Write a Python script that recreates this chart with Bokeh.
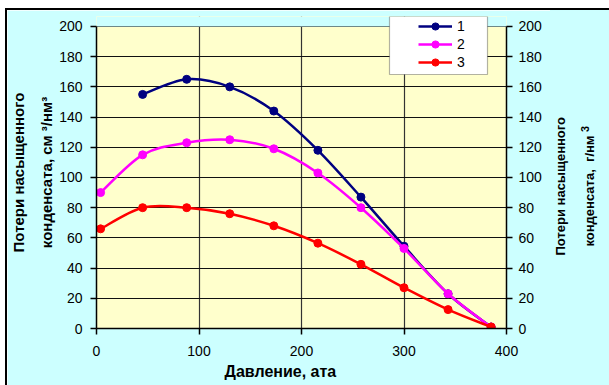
from bokeh.plotting import figure
from bokeh.layouts import row
from bokeh.models import (ColumnDataSource, LinearAxis, Range1d, Legend, LegendItem,
                          FixedTicker, BoxAnnotation, Div, Title)
from bokeh.embed import file_html
from bokeh.resources import INLINE

# Pressure, ata
pressure = [4, 45, 88, 130, 173, 216, 258, 300, 343, 385]
# Losses of saturated condensate for the three cases
pressure_1 = [45, 88, 130, 173, 216, 258, 300, 343, 385]
loss_1 = [155, 165, 160, 144, 118, 87, 54.5, 23, 1]
loss_2 = [90, 115, 123, 125, 119, 103, 80, 53, 23, 1]
loss_3 = [66, 80, 80, 76, 68, 56.5, 42.5, 27, 12.5, 1]

series = [
    ("1", pressure_1, loss_1, "#000080"),
    ("2", pressure, loss_2, "#FF00FF"),
    ("3", pressure, loss_3, "#FF0000"),
]

x_ticks = [0, 100, 200, 300, 400]
y_ticks = list(range(0, 201, 20))
Y_MAX = 200
# a little headroom above the plot area so the legend can sit over its top edge
Y_TOP = 206.6

LEFT_TITLE = "Потери насыщенного\nконденсата, см ³/нм³"
RIGHT_TITLE_HTML = "Потери насыщенного<br>конденсата,&nbsp; г/нм <sup>3</sup>"
X_TITLE = "Давление, ата"

FONT = "Liberation Sans"
PLOT_BG = "#FFFFCC"
CHART_BG = "#CCFFFF"


def smooth_segments(xs, ys):
    """Cubic Bezier control points for a smoothed line through the points."""
    n = len(xs)
    seg = {k: [] for k in ("x0", "y0", "x1", "y1", "cx0", "cy0", "cx1", "cy1")}
    for i in range(n - 1):
        xp, yp = (xs[i - 1], ys[i - 1]) if i > 0 else (xs[i], ys[i])
        xn, yn = (xs[i + 2], ys[i + 2]) if i + 2 < n else (xs[i + 1], ys[i + 1])
        seg["x0"].append(xs[i])
        seg["y0"].append(ys[i])
        seg["x1"].append(xs[i + 1])
        seg["y1"].append(ys[i + 1])
        seg["cx0"].append(xs[i] + (xs[i + 1] - xp) / 6)
        seg["cy0"].append(ys[i] + (ys[i + 1] - yp) / 6)
        seg["cx1"].append(xs[i + 1] - (xn - xs[i]) / 6)
        seg["cy1"].append(ys[i + 1] - (yn - ys[i]) / 6)
    return seg


p = figure(
    width=543, height=375,
    x_range=Range1d(0, 400), y_range=Range1d(0, Y_TOP),
    output_backend="svg", toolbar_location=None,
    min_border_left=88, min_border_right=44,
    min_border_top=6, min_border_bottom=57,
    background_fill_color=PLOT_BG, border_fill_color=CHART_BG,
    outline_line_color=None, margin=0,
)

# grid
p.xgrid.ticker = FixedTicker(ticks=x_ticks)
p.ygrid.ticker = FixedTicker(ticks=y_ticks)
p.xgrid.grid_line_color = "#333333"
p.ygrid.grid_line_color = "#111111"
p.xgrid.grid_line_width = 1.2
p.ygrid.grid_line_width = 1

# chart background above the plot area
p.add_layout(BoxAnnotation(bottom=Y_MAX, fill_color=CHART_BG, fill_alpha=1,
                           line_color=None, level="underlay"))

right_axis = LinearAxis()
p.add_layout(right_axis, "right")

for ax in (p.xaxis[0], p.yaxis[0], right_axis):
    ax.major_label_text_font = FONT
    ax.major_label_text_font_size = "14px"
    ax.major_label_text_color = "#000000"
    ax.axis_line_color = "#000000"
    ax.axis_line_width = 1.5
    ax.major_tick_line_color = "#000000"
    ax.major_tick_line_width = 1.5
    ax.major_tick_out = 6
    ax.major_tick_in = 0
    ax.minor_tick_line_color = None
    ax.major_label_standoff = 8
    ax.axis_label_text_font = FONT
    ax.axis_label_text_font_style = "bold"
    ax.axis_label_text_font_size = "15px"
    ax.axis_label_text_color = "#000000"

right_axis.major_label_standoff = 6
p.xaxis[0].major_label_standoff = 11

p.xaxis[0].ticker = FixedTicker(ticks=x_ticks)
p.yaxis[0].ticker = FixedTicker(ticks=y_ticks)
right_axis.ticker = FixedTicker(ticks=y_ticks)
p.yaxis[0].bounds = (0, Y_MAX)
right_axis.bounds = (0, Y_MAX)

p.yaxis[0].axis_label = LEFT_TITLE
p.yaxis[0].axis_label_text_line_height = 1.65
p.yaxis[0].axis_label_standoff = 1

# title of the pressure axis, set a little left of centre
p.add_layout(Title(text=X_TITLE, align="left", offset=128, standoff=5,
                   text_font=FONT, text_font_style="bold", text_font_size="16px",
                   text_color="#000000"), "below")

# legend frame (drawn under the legend entries)
p.add_layout(BoxAnnotation(left=293, right=391, bottom=254, top=312,
                           left_units="screen", right_units="screen",
                           bottom_units="screen", top_units="screen",
                           fill_color="#FFFFFF", fill_alpha=1,
                           line_color="#000000", line_width=1.2))

items = []
for label, xs, ys, color in series:
    seg = smooth_segments(xs, ys)
    p.bezier(x0="x0", y0="y0", x1="x1", y1="y1", cx0="cx0", cy0="cy0",
             cx1="cx1", cy1="cy1", source=ColumnDataSource(seg),
             line_color=color, line_width=2.5)
    pts = p.scatter(xs, ys, size=8, marker="circle", fill_color=color,
                    line_color=color)
    key = p.line(x=[float("nan")], y=[float("nan")], line_color=color, line_width=2.5)
    items.append(LegendItem(label=label, renderers=[key, pts]))

legend = Legend(items=items, location=(322, 257), padding=0, spacing=0,
                glyph_width=34, glyph_height=18, label_standoff=5,
                label_text_font=FONT, label_text_font_size="14px",
                label_text_color="#000000", label_height=18,
                background_fill_alpha=0, border_line_color=None, margin=0)
p.add_layout(legend, "center")

# strip on the right carrying the title of the right-hand axis (reads bottom to top)
side = Div(
    width=59, height=375, margin=0,
    styles={"background-color": CHART_BG},
    text=(
        '<div style="width:59px;height:375px;display:flex;align-items:center;'
        'justify-content:center;">'
        '<div style="writing-mode:vertical-rl;transform:rotate(180deg);'
        "font-family:'Liberation Sans';font-weight:bold;font-size:13px;"
        'line-height:25px;text-align:center;white-space:nowrap;color:#000;'
        'position:relative;top:-11px;left:-4px;">'
        + RIGHT_TITLE_HTML +
        '</div></div>'
    ),
)

chart = row(p, side, spacing=0, margin=(8, 0, 0, 5))
chart.styles = {"border-top": "2px solid #000000", "border-left": "2px solid #000000"}

open("out.html", "w").write(file_html(chart, INLINE))
